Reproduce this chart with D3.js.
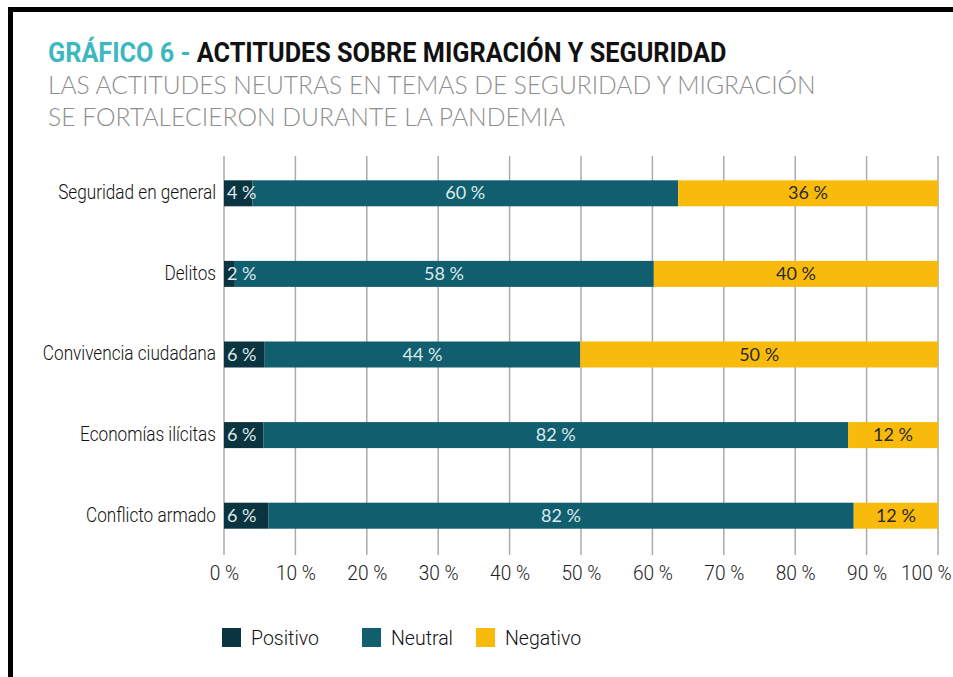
<!DOCTYPE html>
<html>
<head>
<meta charset="utf-8">
<script src="https://cdn.jsdelivr.net/npm/d3@7"></script>
<style>
  html, body { margin: 0; padding: 0; background: #fff; }
  svg { display: block; }
</style>
</head>
<body>
<script>
// ---- data ----
const categories = ["Seguridad en general", "Delitos", "Convivencia ciudadana", "Economías ilícitas", "Conflicto armado"];
const seriesNames = ["Positivo", "Neutral", "Negativo"];
const positivo = [4.0, 1.4, 5.7, 5.5, 6.2];
const neutral  = [59.6, 58.8, 44.2, 81.9, 82.0];
const negativo = [36.4, 39.8, 50.1, 12.6, 11.8];
const positivoLabels = ["4 %", "2 %", "6 %", "6 %", "6 %"];
const neutralLabels  = ["60 %", "58 %", "44 %", "82 %", "82 %"];
const negativoLabels = ["36 %", "40 %", "50 %", "12 %", "12 %"];
const tickValues = [0, 10, 20, 30, 40, 50, 60, 70, 80, 90, 100];
const tickLabels = ["0 %", "10 %", "20 %", "30 %", "40 %", "50 %", "60 %", "70 %", "80 %", "90 %", "100 %"];

const colors = { Positivo: "#0b3441", Neutral: "#115e6e", Negativo: "#f9bb0b" };
const W = 953, H = 677;
const condensed = "Roboto, sans-serif";
const lightW = "300";

const svg = d3.select("body").append("svg").attr("width", W).attr("height", H);

// frame
svg.append("rect").attr("x", 8).attr("y", 7).attr("width", W).attr("height", 5).attr("fill", "#000");
svg.append("rect").attr("x", 8).attr("y", 7).attr("width", 5).attr("height", H).attr("fill", "#000");

function fitWidth(sel, x, target) {
  const w = sel.node().getBBox().width;
  const s = target / w;
  sel.attr("transform", `translate(${x},0) scale(${s},1) translate(${-x},0)`);
}
// squeeze every text of a selection horizontally by a common factor, about its own x
function squeeze(sel, s) {
  sel.each(function () {
    const t = d3.select(this);
    const ax = +t.attr("x") || 0;
    t.attr("transform", `translate(${ax},0) scale(${s},1) translate(${-ax},0)`);
  });
}
function measure(str, font) {
  const t = svg.append("text").style("font", font).text(str);
  const w = t.node().getBBox().width;
  t.remove();
  return w;
}

// title
const title = svg.append("text").attr("x", 48).attr("y", 62)
  .style("font-family", condensed).style("font-weight", "700").style("font-size", "27px");
title.append("tspan").attr("fill", "#3db8c0").text("GRÁFICO 6 - ");
title.append("tspan").attr("fill", "#111").text("ACTITUDES SOBRE MIGRACIÓN Y SEGURIDAD");
fitWidth(title, 48, 679);

const sub1 = svg.append("text").attr("x", 48).attr("y", 94)
  .style("font-family", "Lato, sans-serif").style("font-weight", "300").style("font-size", "26px")
  .attr("fill", "#8e8e8e").text("LAS ACTITUDES NEUTRAS EN TEMAS DE SEGURIDAD Y MIGRACIÓN");
fitWidth(sub1, 48, 768);
const sub2 = svg.append("text").attr("x", 48).attr("y", 126)
  .style("font-family", "Lato, sans-serif").style("font-weight", "300").style("font-size", "26px")
  .attr("fill", "#8e8e8e").text("SE FORTALECIERON DURANTE LA PANDEMIA");
fitWidth(sub2, 48, 517);

// scales
const x = d3.scaleLinear().domain([0, 100]).range([224, 938]);
const y = d3.scaleBand().domain(categories).range([153, 556]);
const barH = 26;

// gridlines
svg.append("g").selectAll("line").data(tickValues).join("line")
  .attr("x1", d => x(d)).attr("x2", d => x(d))
  .attr("y1", 156).attr("y2", 555)
  .attr("stroke", "#ababab").attr("stroke-width", 1.5);

// tick labels via axis
const axis = d3.axisBottom(x).tickValues(tickValues).tickFormat((d, i) => tickLabels[i]).tickSize(0).tickPadding(0);
const ax = svg.append("g").attr("transform", "translate(0,566)").call(axis);
ax.select(".domain").remove();
ax.attr("font-family", null).attr("font-size", null);
const tickText = ax.selectAll("text").style("font-family", condensed).style("font-weight", lightW)
  .style("font-size", "20px").attr("fill", "#222");
const tickScale = 40 / measure("10 %", `${lightW} 20px Roboto`);
tickText.attr("x", 0);
squeeze(tickText, tickScale);
// last label kept inside the picture: right-aligned like the reference
ax.selectAll(".tick").filter(d => d === 100).select("text")
  .attr("text-anchor", "end").attr("x", 13)
  .attr("transform", `translate(13,0) scale(${tickScale},1) translate(-13,0)`);

// stacked bars
const rows = categories.map((c, i) => ({ cat: c, Positivo: positivo[i], Neutral: neutral[i], Negativo: negativo[i], i }));
const stack = d3.stack().keys(seriesNames)(rows);
const labelsBy = { Positivo: positivoLabels, Neutral: neutralLabels, Negativo: negativoLabels };

const g = svg.append("g");
stack.forEach(layer => {
  const key = layer.key;
  g.selectAll(null).data(layer).join("rect")
    .attr("x", d => x(d[0]))
    .attr("width", d => x(d[1]) - x(d[0]))
    .attr("y", d => y(d.data.cat) + y.bandwidth() / 2 - barH / 2)
    .attr("height", barH)
    .attr("fill", colors[key]);
});
stack.forEach(layer => {
  const key = layer.key;
  g.selectAll(null).data(layer).join("text")
    .attr("x", d => key === "Positivo" ? x(d[0]) + 3 : (x(d[0]) + x(d[1])) / 2)
    .attr("y", d => y(d.data.cat) + y.bandwidth() / 2 + 6)
    .attr("text-anchor", key === "Positivo" ? "start" : "middle")
    .style("font-family", "Lato, sans-serif").style("font-size", "18px")
    .attr("fill", key === "Negativo" ? "#2a2a2a" : "#dde9ec")
    .text(d => labelsBy[key][d.data.i]);
});

// category labels
const catText = svg.append("g").selectAll("text").data(categories).join("text")
  .attr("x", 216).attr("y", d => y(d) + y.bandwidth() / 2 + 6)
  .attr("text-anchor", "end")
  .style("font-family", condensed).style("font-weight", lightW).style("font-size", "20px").attr("fill", "#111")
  .text(d => d);
squeeze(catText, 158 / measure("Seguridad en general", `${lightW} 20px Roboto`));

// legend
const legendX = [222, 362, 476];
const lg = svg.append("g").selectAll("g").data(seriesNames).join("g")
  .attr("transform", (d, i) => `translate(${legendX[i]},628)`);
lg.append("rect").attr("width", 19).attr("height", 19).attr("fill", d => colors[d]);
const legText = lg.append("text").attr("x", 29).attr("y", 17)
  .style("font-family", condensed).style("font-weight", lightW).style("font-size", "21px").attr("fill", "#111")
  .text(d => d);
squeeze(legText, 68 / measure("Positivo", `${lightW} 21px Roboto`));
</script>
</body>
</html>
